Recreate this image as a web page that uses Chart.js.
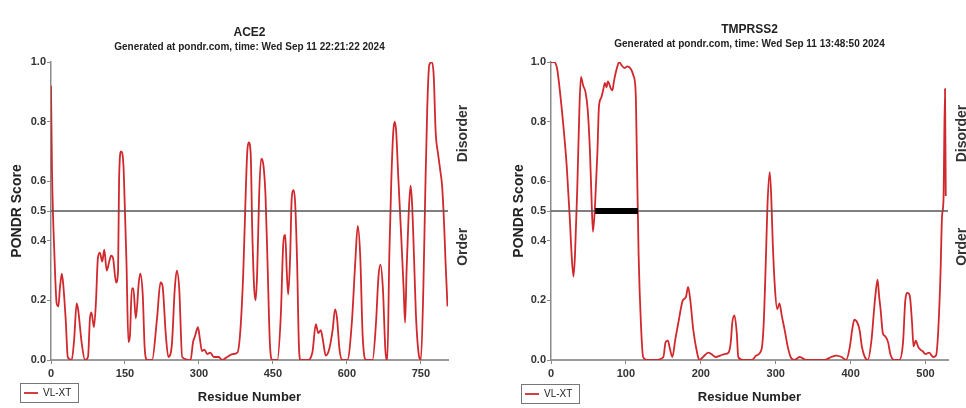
<!DOCTYPE html>
<html>
<head>
<meta charset="utf-8">
<script src="https://cdn.jsdelivr.net/npm/chart.js@4.4.1/dist/chart.umd.min.js"></script>
<style>
    html, body { margin: 0; padding: 0; background: #fff; }
    #wrap { position: relative; width: 966px; height: 408px; }
    .panel { position: absolute; top: 0; width: 483px; height: 408px; }
</style>
</head>
<body>
<div id="wrap">
    <div class="panel" style="left:0"><canvas id="ace2_chart"></canvas></div>
    <div class="panel" style="left:483px"><canvas id="tmprss2_chart"></canvas></div>
</div>
<script>
// values
const ace2Residue = [0, 2, 7, 11.5, 15, 18, 22, 25, 30, 34, 42, 47, 52, 55, 62, 69, 75, 79, 82, 87, 91, 95, 99, 104, 108, 113, 118, 122, 126, 132, 136, 138, 142, 147, 149, 153, 157, 160, 164, 167, 172, 178, 181, 186, 190, 195, 205, 215, 222, 226, 233, 238, 245, 251, 255, 260, 266, 283, 288, 292, 298, 302, 306, 311, 317, 323, 330, 340, 347, 357, 368, 378, 384, 390, 395, 398, 401, 405, 408, 412, 415, 418, 422, 426, 431, 435, 439, 444, 449, 459, 466, 471, 475, 478, 481, 485, 488, 492, 495, 499, 503, 506, 520, 530, 537, 542, 547, 552, 557, 564, 571, 576, 580, 585, 591, 601, 610, 617, 622, 627, 632, 639, 652, 659, 664, 668, 673, 678, 682, 686, 690, 694, 697, 700, 704, 710, 715, 718, 721, 725, 729, 732, 736, 740, 746, 750, 755, 759, 763, 767, 772, 776, 780, 785, 789, 793, 797, 800, 804]
const ace2Score = [0.92, 0.64, 0.35, 0.19, 0.18, 0.24, 0.29, 0.25, 0.13, 0.01, 0, 0.07, 0.19, 0.17, 0.06, 0, 0.01, 0.14, 0.16, 0.11, 0.19, 0.34, 0.36, 0.33, 0.37, 0.30, 0.33, 0.35, 0.34, 0.26, 0.30, 0.60, 0.70, 0.65, 0.55, 0.33, 0.06, 0.08, 0.24, 0.24, 0.14, 0.26, 0.29, 0.22, 0.04, 0, 0, 0.14, 0.26, 0.25, 0.08, 0.01, 0.05, 0.24, 0.30, 0.24, 0.01, 0, 0.06, 0.08, 0.11, 0.07, 0.03, 0.035, 0.02, 0.025, 0.01, 0.01, 0, 0.01, 0.02, 0.025, 0.10, 0.30, 0.57, 0.70, 0.73, 0.69, 0.44, 0.24, 0.20, 0.29, 0.55, 0.675, 0.65, 0.55, 0.33, 0.05, 0, 0, 0.15, 0.39, 0.42, 0.30, 0.22, 0.35, 0.54, 0.57, 0.53, 0.33, 0.035, 0, 0, 0.025, 0.12, 0.09, 0.10, 0.06, 0.015, 0.035, 0.10, 0.17, 0.14, 0.035, 0, 0, 0.125, 0.33, 0.45, 0.35, 0.08, 0, 0, 0.125, 0.28, 0.32, 0.24, 0.035, 0, 0.35, 0.60, 0.765, 0.80, 0.765, 0.62, 0.42, 0.24, 0.125, 0.30, 0.48, 0.585, 0.53, 0.35, 0.15, 0.015, 0, 0.24, 0.57, 0.85, 0.99, 1.0, 0.955, 0.765, 0.69, 0.64, 0.585, 0.46, 0.33, 0.18]

const tmprss2Residue = [0, 4, 8, 12, 16, 21, 25, 27.6, 30, 32, 35, 38, 40, 43, 46, 49, 52, 54, 56, 59, 62, 64, 67, 70, 72, 74, 76, 80, 82, 84, 88, 91, 94, 98, 102, 107, 110, 113, 115, 117, 120, 123, 128, 139, 150, 153, 156, 159, 162, 166, 170, 176, 180, 183, 186, 190, 195, 198, 203, 210, 214, 220, 226, 232, 237, 240, 242, 245, 248, 250, 256, 268, 274, 281, 284, 287, 289, 292, 294, 296, 299, 302, 305, 308, 312, 316, 320, 325, 332, 341, 365, 374, 381, 388, 394, 399, 402, 405, 409, 412, 415, 419, 423, 428, 431, 433, 436, 438, 440, 443, 446, 450, 453, 458, 465, 470, 473, 476, 479, 482, 484, 487, 490, 493, 496, 500, 505, 510, 514, 517, 520, 522, 524, 526, 527]
const tmprss2Score = [1.0, 1.0, 0.98, 0.90, 0.80, 0.65, 0.48, 0.35, 0.28, 0.35, 0.57, 0.85, 0.95, 0.92, 0.90, 0.84, 0.70, 0.55, 0.43, 0.53, 0.70, 0.85, 0.88, 0.91, 0.93, 0.915, 0.935, 0.91, 0.905, 0.935, 0.98, 1.0, 0.99, 0.98, 0.985, 0.975, 0.955, 0.90, 0.63, 0.35, 0.125, 0.01, 0, 0, 0.01, 0.06, 0.065, 0.035, 0.01, 0.07, 0.125, 0.20, 0.21, 0.245, 0.20, 0.10, 0.025, 0, 0.01, 0.025, 0.02, 0.01, 0.015, 0.02, 0.025, 0.06, 0.125, 0.15, 0.09, 0.01, 0, 0, 0.015, 0.035, 0.125, 0.35, 0.52, 0.63, 0.55, 0.395, 0.24, 0.17, 0.19, 0.15, 0.10, 0.045, 0.01, 0, 0.01, 0, 0, 0.01, 0.015, 0.01, 0, 0.045, 0.10, 0.135, 0.125, 0.10, 0.045, 0.01, 0, 0.07, 0.16, 0.215, 0.27, 0.215, 0.17, 0.09, 0.08, 0.06, 0.02, 0, 0, 0.06, 0.20, 0.225, 0.215, 0.125, 0.045, 0.065, 0.045, 0.035, 0.03, 0.02, 0.025, 0.01, 0.015, 0.10, 0.29, 0.48, 0.54, 0.91, 0.55]

// long disordered region marked on the TMPRSS2 plot
const tmprss2DisorderedRegion = [59, 116]

const threshold = 0.5
const yTicks = [0, 0.2, 0.4, 0.5, 0.6, 0.8, 1.0]
const ace2XTicks = [0, 150, 300, 450, 600, 750]
const tmprss2XTicks = [0, 100, 200, 300, 400, 500]

const fontFamily = "'Liberation Sans', Arial, sans-serif"
Chart.defaults.font.family = fontFamily

function to_points(xs, ys) {
    return xs.map((x, i) => ({x: x, y: ys[i]}))
}

const pondrDecor = {
    id: 'pondrDecor',
    afterDraw(chart, args, opts) {
        const ctx = chart.ctx
        const area = chart.chartArea
        const cx = (area.left + area.right) / 2
        ctx.save()
        ctx.fillStyle = '#222'
        ctx.textAlign = 'center'
        ctx.textBaseline = 'middle'
        ctx.font = `bold 12px ${fontFamily}`
        ctx.fillText(opts.title, cx, opts.titleY)
        ctx.font = `bold 10px ${fontFamily}`
        ctx.fillText(opts.subtitle, cx, opts.titleY + 14)

        // Disorder / Order side labels
        ctx.font = `bold 14px ${fontFamily}`
        ctx.fillStyle = '#333'
        ctx.save()
        ctx.translate(opts.sideX, chart.scales.y.getPixelForValue(0.76))
        ctx.rotate(-Math.PI / 2)
        ctx.fillText('Disorder', 0, 0)
        ctx.restore()
        ctx.save()
        ctx.translate(opts.sideX, chart.scales.y.getPixelForValue(0.38))
        ctx.rotate(-Math.PI / 2)
        ctx.fillText('Order', 0, 0)
        ctx.restore()

        // legend box
        const [lx, ly, lw, lh] = opts.legendBox
        ctx.strokeStyle = '#777'
        ctx.lineWidth = 1
        ctx.strokeRect(lx + 0.5, ly + 0.5, lw, lh)
        ctx.strokeStyle = '#d0282c'
        ctx.lineWidth = 1.8
        ctx.beginPath()
        ctx.moveTo(lx + 4, ly + lh / 2 + 0.5)
        ctx.lineTo(lx + 18, ly + lh / 2 + 0.5)
        ctx.stroke()
        ctx.fillStyle = '#222'
        ctx.textAlign = 'left'
        ctx.font = `10px ${fontFamily}`
        ctx.fillText('VL-XT', lx + 23, ly + lh / 2 + 1)
        ctx.restore()
    }
}

function make_chart(canvas_id, cfg) {
    const canvas_chart = document.getElementById(canvas_id)
    const datasets = []
    if (cfg.region) {
        datasets.push({
            label: 'disordered region',
            data: [{x: cfg.region[0], y: threshold}, {x: cfg.region[1], y: threshold}],
            borderColor: '#000',
            borderWidth: 6,
            borderCapStyle: 'butt',
            pointRadius: 0
        })
    }
    datasets.push({
        label: 'threshold',
        data: [{x: 0, y: threshold}, {x: cfg.xMax, y: threshold}],
        borderColor: '#555',
        borderWidth: 1.5,
        pointRadius: 0
    })
    datasets.push({
        label: 'VL-XT',
        data: to_points(cfg.residues, cfg.scores),
        borderColor: '#d0282c',
        borderWidth: 1.8,
        pointRadius: 0,
        cubicInterpolationMode: 'monotone'
    })

    return new Chart(canvas_chart, {
        type: 'line',
        data: { datasets: datasets },
        plugins: [pondrDecor],
        options: {
            responsive: true,
            maintainAspectRatio: false,
            animation: false,
            layout: { padding: { top: 62, right: cfg.padRight, left: 0, bottom: 0 } },
            plugins: {
                legend: { display: false },
                tooltip: { enabled: false },
                pondrDecor: {
                    title: cfg.title,
                    subtitle: cfg.subtitle,
                    titleY: cfg.titleY,
                    sideX: cfg.sideX,
                    legendBox: cfg.legendBox
                }
            },
            scales: {
                x: {
                    type: 'linear',
                    min: 0,
                    max: cfg.xMax,
                    afterBuildTicks: s => { s.ticks = cfg.xTicks.map(v => ({value: v})) },
                    afterFit: s => { s.height = 48 },
                    grid: { drawOnChartArea: false, drawTicks: true, tickLength: 4, tickColor: '#888' },
                    border: { color: '#9a9a9a', width: 2 },
                    ticks: { color: '#333', padding: 3, maxRotation: 0, font: { size: 11, weight: 'bold' } },
                    title: {
                        display: true,
                        text: 'Residue Number',
                        color: '#222',
                        font: { size: 13, weight: 'bold' },
                        padding: { top: 0, bottom: 3 }
                    }
                },
                y: {
                    min: 0,
                    max: 1,
                    afterBuildTicks: s => { s.ticks = yTicks.map(v => ({value: v})) },
                    afterFit: s => { s.width = cfg.axisLeft },
                    grid: { drawOnChartArea: false, drawTicks: true, tickLength: 4, tickColor: '#888' },
                    border: { color: '#8a8a8a', width: 1.5 },
                    ticks: {
                        color: '#333',
                        padding: 1,
                        font: { size: 11, weight: 'bold' },
                        callback: v => v.toFixed(1)
                    },
                    title: {
                        display: true,
                        text: 'PONDR Score',
                        color: '#222',
                        font: { size: 14, weight: 'bold' },
                        padding: { top: cfg.yTitlePad, bottom: 0 }
                    }
                }
            }
        }
    })
}

make_chart('ace2_chart', {
    title: 'ACE2',
    subtitle: 'Generated at pondr.com, time: Wed Sep 11 22:21:22 2024',
    titleY: 33,
    residues: ace2Residue,
    scores: ace2Score,
    xMax: 805,
    xTicks: ace2XTicks,
    axisLeft: 51,
    padRight: 35,
    yTitlePad: 9,
    sideX: 463,
    legendBox: [20, 383, 58, 19]
})

make_chart('tmprss2_chart', {
    title: 'TMPRSS2',
    subtitle: 'Generated at pondr.com, time: Wed Sep 11 13:48:50 2024',
    titleY: 30,
    residues: tmprss2Residue,
    scores: tmprss2Score,
    region: tmprss2DisorderedRegion,
    xMax: 530,
    xTicks: tmprss2XTicks,
    axisLeft: 68,
    padRight: 18,
    yTitlePad: 28,
    sideX: 479,
    legendBox: [38, 384, 58, 19]
})
</script>
</body>
</html>
